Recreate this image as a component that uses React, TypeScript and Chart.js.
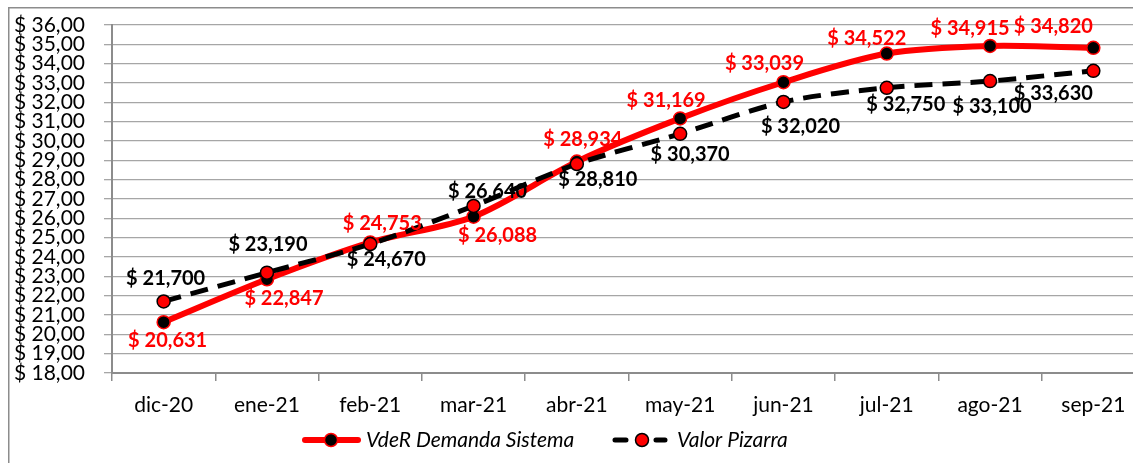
import React, { useEffect, useRef } from "react";
import { Chart, registerables } from "chart.js";

Chart.register(...registerables);

const CATEGORIES = ["dic-20", "ene-21", "feb-21", "mar-21", "abr-21", "may-21", "jun-21", "jul-21", "ago-21", "sep-21"];
const VDER = [20.631, 22.847, 24.753, 26.088, 28.934, 31.169, 33.039, 34.522, 34.915, 34.82];
const PIZARRA = [21.7, 23.19, 24.67, 26.64, 28.81, 30.37, 32.02, 32.75, 33.1, 33.63];
const SERIES_NAMES = ["VdeR Demanda Sistema", "Valor Pizarra"];
const Y_MIN = 18;
const Y_MAX = 36;
const Y_STEP = 1;

// label placement relative to each point (pixels)
const VDER_LABEL_OFFSETS: [number, number][] = [
  [4, 18], [17, 19], [12, -19], [24, 19], [6, -22], [-14, -18], [-19, -19], [-20, -15], [-20, -17], [-40, -21],
];
const PIZARRA_LABEL_OFFSETS: [number, number][] = [
  [2, -23], [1, -28], [16, 16], [14, -14], [21, 16], [10, 21], [17, 25], [19, 17], [2, 25], [-40, 23],
];

const W = 1160;
const H = 456;
const FONT = "Lato, 'Liberation Sans', sans-serif";
const RED = "#ff0000";
const BLACK = "#000000";
const AXIS_GRAY = "#8c8c8c";
const GRID_GRAY = "#a6a6a6";

const fmtLabel = (v: number) => "$ " + v.toFixed(3).replace(".", ",");
const fmtTick = (v: number) => "$ " + Number(v).toFixed(2).replace(".", ",");

const framePlugin = {
  id: "frame",
  beforeDraw(chart: any) {
    const ctx = chart.ctx;
    ctx.save();
    ctx.fillStyle = "#ffffff";
    ctx.fillRect(0, 0, chart.width, chart.height);
    ctx.strokeStyle = AXIS_GRAY;
    ctx.lineWidth = 1.5;
    ctx.beginPath();
    ctx.moveTo(0.75, chart.height);
    ctx.lineTo(0.75, 0.75);
    ctx.lineTo(chart.width, 0.75);
    ctx.stroke();
    ctx.restore();
  },
};

const labelsPlugin = {
  id: "pointLabels",
  afterDatasetsDraw(chart: any) {
    const ctx = chart.ctx;
    const sets = [
      { idx: 0, values: VDER, offsets: VDER_LABEL_OFFSETS, color: RED },
      { idx: 1, values: PIZARRA, offsets: PIZARRA_LABEL_OFFSETS, color: BLACK },
    ];
    ctx.save();
    ctx.font = `bold 20px ${FONT}`;
    ctx.textAlign = "center";
    ctx.textBaseline = "middle";
    sets.forEach((s) => {
      const meta = chart.getDatasetMeta(s.idx);
      ctx.fillStyle = s.color;
      meta.data.forEach((pt: any, i: number) => {
        const [dx, dy] = s.offsets[i];
        ctx.fillText(fmtLabel(s.values[i]), pt.x + dx, pt.y + dy);
      });
    });
    ctx.restore();
  },
};

const legendPlugin = {
  id: "customLegend",
  afterDraw(chart: any) {
    const ctx = chart.ctx;
    const y = 433;
    ctx.save();
    // item 1: solid red line with black marker
    ctx.strokeStyle = RED;
    ctx.lineWidth = 6;
    ctx.lineCap = "round";
    ctx.beginPath();
    ctx.moveTo(297, y);
    ctx.lineTo(350, y);
    ctx.stroke();
    ctx.beginPath();
    ctx.arc(323, y, 6.5, 0, Math.PI * 2);
    ctx.fillStyle = BLACK;
    ctx.fill();
    ctx.lineWidth = 1.5;
    ctx.strokeStyle = RED;
    ctx.stroke();
    ctx.font = `italic 21px ${FONT}`;
    ctx.textAlign = "left";
    ctx.textBaseline = "middle";
    ctx.fillStyle = BLACK;
    ctx.fillText(SERIES_NAMES[0], 358, y);
    // item 2: dashed black line with red marker
    ctx.strokeStyle = BLACK;
    ctx.lineWidth = 5;
    ctx.lineCap = "round";
    ctx.beginPath();
    ctx.moveTo(607, y);
    ctx.lineTo(618, y);
    ctx.moveTo(648, y);
    ctx.lineTo(657, y);
    ctx.stroke();
    ctx.beginPath();
    ctx.arc(634, y, 6.5, 0, Math.PI * 2);
    ctx.fillStyle = RED;
    ctx.fill();
    ctx.lineWidth = 1.5;
    ctx.strokeStyle = BLACK;
    ctx.stroke();
    ctx.fillStyle = BLACK;
    ctx.fillText(SERIES_NAMES[1], 669, y);
    ctx.restore();
  },
};

export default function App() {
  const canvasRef = useRef<HTMLCanvasElement | null>(null);

  useEffect(() => {
    if (!canvasRef.current) return;
    Chart.defaults.font.family = FONT;
    const chart = new Chart(canvasRef.current, {
      type: "line",
      data: {
        labels: CATEGORIES,
        datasets: [
          {
            label: SERIES_NAMES[0],
            data: VDER,
            borderColor: RED,
            backgroundColor: RED,
            borderWidth: 6,
            tension: 0.3,
            fill: false,
            pointRadius: 6.5,
            pointBackgroundColor: BLACK,
            pointBorderColor: RED,
            pointBorderWidth: 1.5,
            borderCapStyle: "round",
            borderJoinStyle: "round",
            order: 1,
          },
          {
            label: SERIES_NAMES[1],
            data: PIZARRA,
            borderColor: BLACK,
            backgroundColor: BLACK,
            borderWidth: 5,
            borderDash: [18, 10],
            tension: 0.3,
            fill: false,
            pointRadius: 6.5,
            pointBackgroundColor: RED,
            pointBorderColor: BLACK,
            pointBorderWidth: 1.5,
            order: 0,
          },
        ],
      },
      options: {
        responsive: false,
        animation: false,
        layout: { padding: { top: 18, right: 23, bottom: 0, left: 0 } },
        plugins: {
          legend: { display: false },
          tooltip: { enabled: false },
          title: { display: false },
        },
        scales: {
          x: {
            offset: true,
            grid: {
              offset: true,
              drawOnChartArea: false,
              drawTicks: true,
              tickLength: 8,
              color: AXIS_GRAY,
              lineWidth: 1.5,
            },
            border: { display: true, color: AXIS_GRAY, width: 2 },
            ticks: {
              font: { size: 21, family: FONT },
              color: BLACK,
              padding: 12,
              maxRotation: 0,
              autoSkip: false,
            },
            afterFit: (s: any) => {
              s.height = 90;
              s.paddingLeft = 0;
              s.paddingRight = 0;
            },
          },
          y: {
            min: Y_MIN,
            max: Y_MAX,
            ticks: {
              stepSize: Y_STEP,
              autoSkip: false,
              maxTicksLimit: 100,
              callback: (v: any) => fmtTick(Number(v)),
              font: { size: 21, family: FONT },
              color: BLACK,
              padding: 19,
            },
            grid: {
              color: GRID_GRAY,
              lineWidth: 1.3,
              drawTicks: true,
              tickLength: 8,
            },
            border: { display: true, color: AXIS_GRAY, width: 2 },
            afterFit: (s: any) => {
              s.width = 104;
              s.paddingTop = 0;
              s.paddingBottom = 0;
            },
          },
        },
      },
      plugins: [framePlugin, labelsPlugin, legendPlugin],
    });
    return () => chart.destroy();
  }, []);

  return (
    <div
      style={{
        position: "fixed",
        left: 0,
        top: 0,
        width: 1133,
        height: 463,
        overflow: "hidden",
        background: "#ffffff",
      }}
    >
      <canvas
        ref={canvasRef}
        width={W}
        height={H}
        style={{ position: "absolute", left: 8, top: 7, width: W, height: H }}
      />
    </div>
  );
}
